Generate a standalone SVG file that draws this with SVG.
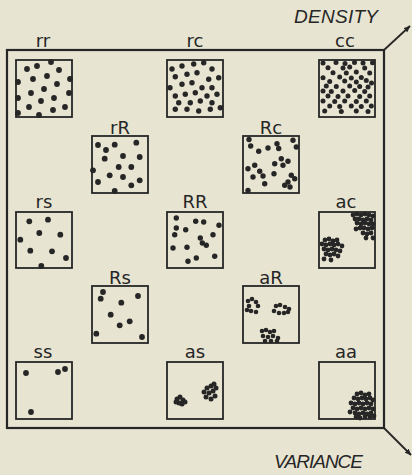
<svg xmlns="http://www.w3.org/2000/svg" width="412" height="475" viewBox="0 0 412 475">
<style>
.box{fill:none;stroke:#262626;stroke-width:1.8}
.frame{fill:none;stroke:#262626;stroke-width:2.2}
.d circle{fill:#262626}
.lbl{font-family:"DejaVu Sans",sans-serif;font-size:18px;fill:#262626;text-anchor:middle}
.ax{font-family:"Liberation Sans",sans-serif;font-style:italic;font-size:19px;fill:#262626}
</style>
<defs>
<marker id="ah" viewBox="0 0 10 10" refX="9" refY="5" markerWidth="7" markerHeight="7" orient="auto" markerUnits="userSpaceOnUse">
<path d="M0,1 L10,5 L0,9 z" fill="#262626"/>
</marker>
</defs>
<rect width="412" height="475" fill="#e8e4d2"/>
<g id="connectors">
<rect class="frame" x="7" y="50" width="377" height="378"/>
<line x1="384" y1="50" x2="410" y2="26" stroke="#262626" stroke-width="1.8" marker-end="url(#ah)"/>
<line x1="384" y1="428" x2="411" y2="455" stroke="#262626" stroke-width="1.8" marker-end="url(#ah)"/>
</g>
<g id="density"><text class="ax" x="294" y="23" textLength="84">DENSITY</text></g>
<g id="variance"><text class="ax" x="274" y="468" textLength="89">VARIANCE</text></g>

<g id="rr">
<text class="lbl" x="43" y="47">rr</text>
<rect class="box" x="16" y="60" width="56" height="57"/>
<g class="d">
<circle cx="27" cy="69" r="2.9"/><circle cx="37" cy="66" r="2.9"/><circle cx="51" cy="62" r="2.9"/><circle cx="59" cy="70" r="2.9"/><circle cx="70" cy="79" r="2.9"/><circle cx="18" cy="82" r="2.9"/><circle cx="33" cy="79" r="2.9"/><circle cx="47" cy="76" r="2.9"/><circle cx="44" cy="89" r="2.9"/><circle cx="57" cy="84" r="2.9"/><circle cx="69" cy="93" r="2.9"/><circle cx="18" cy="98" r="2.9"/><circle cx="31" cy="93" r="2.9"/><circle cx="41" cy="101" r="2.9"/><circle cx="54" cy="98" r="2.9"/><circle cx="29" cy="107" r="2.9"/><circle cx="39" cy="115" r="2.9"/><circle cx="53" cy="110" r="2.9"/><circle cx="65" cy="107" r="2.9"/><circle cx="18" cy="113" r="2.9"/>
</g>
</g>

<g id="rc">
<text class="lbl" x="195" y="47">rc</text>
<rect class="box" x="167" y="60" width="56" height="57"/>
<g class="d">
<circle cx="172" cy="69" r="2.7"/><circle cx="182" cy="66" r="2.7"/><circle cx="193.7" cy="64" r="2.7"/><circle cx="203.7" cy="62.7" r="2.7"/><circle cx="212" cy="69" r="2.7"/><circle cx="175.3" cy="76.7" r="2.7"/><circle cx="187" cy="74.3" r="2.7"/><circle cx="197" cy="72.7" r="2.7"/><circle cx="208.7" cy="79.3" r="2.7"/><circle cx="218.7" cy="77.7" r="2.7"/><circle cx="182" cy="84.3" r="2.7"/><circle cx="192" cy="82.7" r="2.7"/><circle cx="202" cy="87.7" r="2.7"/><circle cx="212" cy="87.7" r="2.7"/><circle cx="170" cy="87.7" r="2.7"/><circle cx="175.3" cy="96" r="2.7"/><circle cx="185.3" cy="94.3" r="2.7"/><circle cx="195.3" cy="92.7" r="2.7"/><circle cx="207" cy="96" r="2.7"/><circle cx="217" cy="94.3" r="2.7"/><circle cx="178.7" cy="102.7" r="2.7"/><circle cx="190.3" cy="102.7" r="2.7"/><circle cx="200.3" cy="101" r="2.7"/><circle cx="212" cy="102.7" r="2.7"/><circle cx="175.3" cy="109.3" r="2.7"/><circle cx="187" cy="109.3" r="2.7"/><circle cx="198.7" cy="111" r="2.7"/><circle cx="210.3" cy="109.3" r="2.7"/><circle cx="220.3" cy="107.7" r="2.7"/>
</g>
</g>

<g id="cc">
<text class="lbl" x="345" y="47">cc</text>
<rect class="box" x="319" y="60" width="56" height="57"/>
<g class="d">
<circle cx="323" cy="63" r="2.5"/><circle cx="336" cy="62.5" r="2.5"/><circle cx="345" cy="63.5" r="2.5"/><circle cx="354.5" cy="62.5" r="2.5"/><circle cx="363" cy="63" r="2.5"/><circle cx="372.5" cy="62.7" r="2.5"/>
<circle cx="328" cy="67.7" r="2.5"/><circle cx="343" cy="68" r="2.5"/><circle cx="349.7" cy="67" r="2.5"/><circle cx="364.7" cy="68" r="2.5"/>
<circle cx="333" cy="72.7" r="2.5"/><circle cx="346.3" cy="73" r="2.5"/><circle cx="356.3" cy="72" r="2.5"/><circle cx="369.7" cy="73" r="2.5"/>
<circle cx="323" cy="77.7" r="2.5"/><circle cx="339.7" cy="77" r="2.5"/><circle cx="351.3" cy="78" r="2.5"/><circle cx="361.3" cy="77.5" r="2.5"/>
<circle cx="329.7" cy="81.5" r="2.5"/><circle cx="344.7" cy="81" r="2.5"/><circle cx="356.3" cy="82" r="2.5"/><circle cx="366.3" cy="80.5" r="2.5"/><circle cx="371.5" cy="83" r="2.5"/>
<circle cx="326.3" cy="86" r="2.5"/><circle cx="336.3" cy="86.5" r="2.5"/><circle cx="349.7" cy="86" r="2.5"/><circle cx="359.7" cy="86.5" r="2.5"/><circle cx="368" cy="87" r="2.5"/>
<circle cx="323" cy="91" r="2.5"/><circle cx="331.3" cy="91.5" r="2.5"/><circle cx="343" cy="91" r="2.5"/><circle cx="354.7" cy="90.5" r="2.5"/><circle cx="364.7" cy="91.5" r="2.5"/>
<circle cx="328" cy="96" r="2.5"/><circle cx="338" cy="96.5" r="2.5"/><circle cx="348" cy="96" r="2.5"/><circle cx="359.7" cy="96.5" r="2.5"/><circle cx="369.7" cy="96" r="2.5"/>
<circle cx="323" cy="101" r="2.5"/><circle cx="334.7" cy="101.5" r="2.5"/><circle cx="344.7" cy="101" r="2.5"/><circle cx="356.3" cy="101.5" r="2.5"/><circle cx="366.3" cy="101" r="2.5"/>
<circle cx="329.7" cy="106" r="2.5"/><circle cx="339.7" cy="106.5" r="2.5"/><circle cx="351.3" cy="106" r="2.5"/><circle cx="361.3" cy="106.5" r="2.5"/><circle cx="371.3" cy="106" r="2.5"/>
<circle cx="324.7" cy="111" r="2.5"/><circle cx="341.3" cy="111.5" r="2.5"/><circle cx="356.3" cy="111" r="2.5"/><circle cx="368" cy="111.5" r="2.5"/>
</g>
</g>

<g id="rR">
<text class="lbl" x="120" y="134">rR</text>
<rect class="box" x="92" y="136" width="56" height="57"/>
<g class="d">
<circle cx="98" cy="145" r="2.9"/><circle cx="114.7" cy="144.7" r="2.9"/><circle cx="136.3" cy="142.7" r="2.9"/><circle cx="106" cy="150" r="2.9"/><circle cx="104.7" cy="158.7" r="2.9"/><circle cx="123" cy="156" r="2.9"/><circle cx="139.7" cy="157" r="2.9"/><circle cx="118.7" cy="167" r="2.9"/><circle cx="131.3" cy="167" r="2.9"/><circle cx="93" cy="170.3" r="2.9"/><circle cx="109.7" cy="175.3" r="2.9"/><circle cx="123" cy="177" r="2.9"/><circle cx="139.7" cy="180.3" r="2.9"/><circle cx="98" cy="182" r="2.9"/><circle cx="131.3" cy="185.3" r="2.9"/><circle cx="114.7" cy="191" r="2.9"/>
</g>
</g>

<g id="Rc">
<text class="lbl" x="271" y="134">Rc</text>
<rect class="box" x="243" y="136" width="56" height="57"/>
<g class="d">
<circle cx="250.7" cy="146" r="2.7"/><circle cx="258.7" cy="151.3" r="2.7"/><circle cx="268" cy="148" r="2.7"/><circle cx="277" cy="143.7" r="2.7"/><circle cx="278.7" cy="148.5" r="2.7"/><circle cx="296.3" cy="147" r="2.7"/><circle cx="293" cy="140.3" r="2.7"/><circle cx="249" cy="139.5" r="2.7"/><circle cx="281.3" cy="158.7" r="2.7"/><circle cx="274.7" cy="163.7" r="2.7"/><circle cx="283" cy="165.3" r="2.7"/><circle cx="288" cy="161.3" r="2.7"/><circle cx="248" cy="168.7" r="2.7"/><circle cx="254.7" cy="165.3" r="2.7"/><circle cx="259.7" cy="171.3" r="2.7"/><circle cx="263" cy="176" r="2.7"/><circle cx="253" cy="177" r="2.7"/><circle cx="274" cy="173.7" r="2.7"/><circle cx="291.3" cy="175.3" r="2.7"/><circle cx="294.7" cy="178.7" r="2.7"/><circle cx="288" cy="182" r="2.7"/><circle cx="284.7" cy="185.3" r="2.7"/><circle cx="290" cy="187" r="2.7"/><circle cx="264.7" cy="183.7" r="2.7"/><circle cx="248" cy="190.5" r="2.7"/>
</g>
</g>

<g id="rs">
<text class="lbl" x="44" y="208">rs</text>
<rect class="box" x="16" y="212" width="56" height="56"/>
<g class="d">
<circle cx="29.3" cy="221.3" r="2.9"/><circle cx="48" cy="219.7" r="2.9"/><circle cx="20.3" cy="239.7" r="2.9"/><circle cx="39.3" cy="233" r="2.9"/><circle cx="60.3" cy="234.7" r="2.9"/><circle cx="30.3" cy="250.7" r="2.9"/><circle cx="52" cy="251.3" r="2.9"/><circle cx="66" cy="258" r="2.9"/><circle cx="41.3" cy="266" r="2.9"/>
</g>
</g>

<g id="RR">
<text class="lbl" x="195" y="208">RR</text>
<rect class="box" x="167" y="212" width="56" height="56"/>
<g class="d">
<circle cx="176.3" cy="218" r="2.7"/><circle cx="195.7" cy="221.3" r="2.7"/><circle cx="203.7" cy="222" r="2.7"/><circle cx="176.3" cy="228" r="2.7"/><circle cx="185.7" cy="229.7" r="2.7"/><circle cx="174.7" cy="234.7" r="2.7"/><circle cx="219" cy="225.3" r="2.7"/><circle cx="213" cy="234.7" r="2.7"/><circle cx="200.3" cy="238" r="2.7"/><circle cx="202.3" cy="243" r="2.7"/><circle cx="206.3" cy="245.3" r="2.7"/><circle cx="173" cy="248" r="2.7"/><circle cx="187" cy="247.3" r="2.7"/><circle cx="214.7" cy="256.3" r="2.7"/><circle cx="196.3" cy="258" r="2.7"/><circle cx="188" cy="261.3" r="2.7"/>
</g>
</g>

<g id="ac">
<text class="lbl" x="346" y="208">ac</text>
<rect class="box" x="319" y="212" width="56" height="56"/>
<g class="d">
<circle cx="353" cy="215" r="2.4"/><circle cx="357" cy="214" r="2.4"/><circle cx="361" cy="215" r="2.4"/><circle cx="365" cy="214" r="2.4"/><circle cx="369" cy="215" r="2.4"/><circle cx="373" cy="216" r="2.4"/>
<circle cx="355" cy="219" r="2.4"/><circle cx="359" cy="219" r="2.4"/><circle cx="363" cy="220" r="2.4"/><circle cx="367" cy="219" r="2.4"/><circle cx="371" cy="220" r="2.4"/>
<circle cx="357" cy="223" r="2.4"/><circle cx="361" cy="224" r="2.4"/><circle cx="365" cy="223" r="2.4"/><circle cx="369" cy="224" r="2.4"/><circle cx="373" cy="224" r="2.4"/>
<circle cx="360" cy="228" r="2.4"/><circle cx="364" cy="228" r="2.4"/><circle cx="368" cy="229" r="2.4"/><circle cx="372" cy="228" r="2.4"/>
<circle cx="356" cy="229" r="2.4"/><circle cx="363" cy="233" r="2.4"/><circle cx="367" cy="234" r="2.4"/><circle cx="371" cy="233" r="2.4"/><circle cx="373" cy="238" r="2.4"/><circle cx="366" cy="238" r="2.4"/>
<circle cx="325" cy="240" r="2.4"/><circle cx="329" cy="239" r="2.4"/><circle cx="333" cy="241" r="2.4"/><circle cx="337" cy="240" r="2.4"/>
<circle cx="322" cy="244" r="2.4"/><circle cx="326" cy="245" r="2.4"/><circle cx="330" cy="244" r="2.4"/><circle cx="334" cy="245" r="2.4"/><circle cx="338" cy="244" r="2.4"/><circle cx="342" cy="246" r="2.4"/>
<circle cx="324" cy="249" r="2.4"/><circle cx="328" cy="250" r="2.4"/><circle cx="332" cy="249" r="2.4"/><circle cx="336" cy="250" r="2.4"/><circle cx="340" cy="251" r="2.4"/>
<circle cx="326" cy="254" r="2.4"/><circle cx="330" cy="255" r="2.4"/><circle cx="334" cy="254" r="2.4"/><circle cx="338" cy="256" r="2.4"/>
<circle cx="324" cy="259" r="2.4"/><circle cx="331" cy="260" r="2.4"/>
</g>
</g>

<g id="Rs">
<text class="lbl" x="120" y="284">Rs</text>
<rect class="box" x="92" y="286" width="56" height="57"/>
<g class="d">
<circle cx="103" cy="292" r="2.9"/><circle cx="100.7" cy="298.7" r="2.9"/><circle cx="138" cy="296" r="2.9"/><circle cx="121.3" cy="302.7" r="2.9"/><circle cx="110.7" cy="314.7" r="2.9"/><circle cx="129.7" cy="321.3" r="2.9"/><circle cx="119.7" cy="325.3" r="2.9"/><circle cx="96.3" cy="333.7" r="2.9"/><circle cx="142" cy="337" r="2.9"/>
</g>
</g>

<g id="aR">
<text class="lbl" x="271" y="284">aR</text>
<rect class="box" x="243" y="286" width="56" height="57"/>
<g class="d">
<circle cx="248" cy="301" r="2.3"/><circle cx="252" cy="299" r="2.3"/><circle cx="256" cy="302" r="2.3"/><circle cx="249" cy="306" r="2.3"/><circle cx="258" cy="306" r="2.3"/><circle cx="251" cy="311" r="2.3"/><circle cx="256" cy="312" r="2.3"/><circle cx="247" cy="310" r="2.3"/>
<circle cx="276" cy="306" r="2.3"/><circle cx="280" cy="305" r="2.3"/><circle cx="285" cy="307" r="2.3"/><circle cx="289" cy="309" r="2.3"/><circle cx="274" cy="311" r="2.3"/><circle cx="279" cy="313" r="2.3"/><circle cx="284" cy="313" r="2.3"/><circle cx="288" cy="312" r="2.3"/>
<circle cx="262" cy="331" r="2.3"/><circle cx="266" cy="330" r="2.3"/><circle cx="270" cy="332" r="2.3"/><circle cx="274" cy="331" r="2.3"/><circle cx="263" cy="336" r="2.3"/><circle cx="268" cy="337" r="2.3"/><circle cx="273" cy="336" r="2.3"/><circle cx="278" cy="338" r="2.3"/><circle cx="265" cy="341" r="2.3"/><circle cx="271" cy="341" r="2.3"/><circle cx="277" cy="341" r="2.3"/>
</g>
</g>

<g id="ss">
<text class="lbl" x="43" y="358">ss</text>
<rect class="box" x="16" y="362" width="56" height="57"/>
<g class="d">
<circle cx="26" cy="373" r="2.9"/><circle cx="58" cy="372" r="2.9"/><circle cx="65" cy="369" r="2.9"/><circle cx="31" cy="412" r="2.9"/>
</g>
</g>

<g id="as">
<text class="lbl" x="195" y="358">as</text>
<rect class="box" x="167" y="362" width="56" height="57"/>
<g class="d">
<circle cx="177" cy="399" r="2.5"/><circle cx="180" cy="397" r="2.5"/><circle cx="183" cy="400" r="2.5"/><circle cx="179" cy="403" r="2.5"/><circle cx="182" cy="404" r="2.5"/><circle cx="185" cy="402" r="2.5"/><circle cx="176" cy="402" r="2.5"/>
<circle cx="204" cy="392" r="2.5"/><circle cx="207" cy="388" r="2.5"/><circle cx="211" cy="386" r="2.5"/><circle cx="214" cy="384" r="2.5"/><circle cx="209" cy="393" r="2.5"/><circle cx="213" cy="391" r="2.5"/><circle cx="216" cy="388" r="2.5"/><circle cx="206" cy="397" r="2.5"/><circle cx="211" cy="399" r="2.5"/><circle cx="215" cy="396" r="2.5"/>
</g>
</g>

<g id="aa">
<text class="lbl" x="346" y="358">aa</text>
<rect class="box" x="319" y="362" width="56" height="57"/>
<g class="d">
<circle cx="357" cy="394" r="2.4"/><circle cx="361" cy="393" r="2.4"/><circle cx="365" cy="395" r="2.4"/><circle cx="369" cy="394" r="2.4"/>
<circle cx="354" cy="398" r="2.4"/><circle cx="358" cy="399" r="2.4"/><circle cx="362" cy="398" r="2.4"/><circle cx="366" cy="399" r="2.4"/><circle cx="370" cy="398" r="2.4"/><circle cx="373" cy="400" r="2.4"/>
<circle cx="351" cy="403" r="2.4"/><circle cx="355" cy="404" r="2.4"/><circle cx="359" cy="403" r="2.4"/><circle cx="363" cy="404" r="2.4"/><circle cx="367" cy="403" r="2.4"/><circle cx="371" cy="404" r="2.4"/>
<circle cx="353" cy="408" r="2.4"/><circle cx="357" cy="409" r="2.4"/><circle cx="361" cy="408" r="2.4"/><circle cx="365" cy="409" r="2.4"/><circle cx="369" cy="408" r="2.4"/><circle cx="373" cy="409" r="2.4"/>
<circle cx="350" cy="412" r="2.4"/><circle cx="355" cy="413" r="2.4"/><circle cx="359" cy="414" r="2.4"/><circle cx="363" cy="413" r="2.4"/><circle cx="367" cy="414" r="2.4"/><circle cx="371" cy="413" r="2.4"/>
<circle cx="356" cy="417" r="2.4"/><circle cx="360" cy="418" r="2.4"/><circle cx="365" cy="417" r="2.4"/><circle cx="370" cy="417" r="2.4"/><circle cx="374" cy="416" r="2.4"/>
</g>
</g>
</svg>
